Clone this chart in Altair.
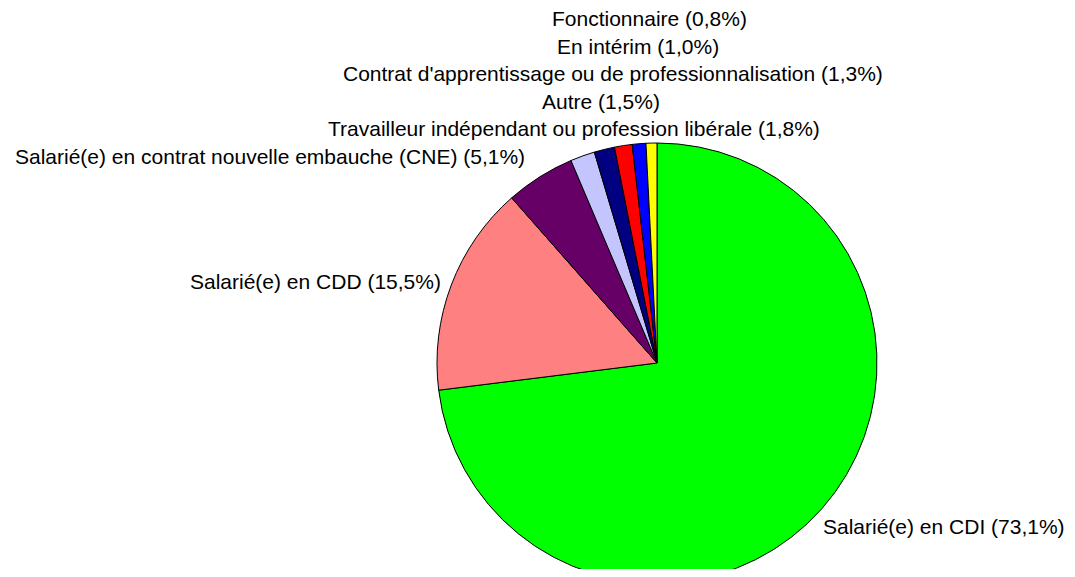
import altair as alt
import pandas as pd

categories = [
    "Salarié(e) en CDI",
    "Salarié(e) en CDD",
    "Salarié(e) en contrat nouvelle embauche (CNE)",
    "Travailleur indépendant ou profession libérale",
    "Autre",
    "Contrat d'apprentissage ou de professionnalisation",
    "En intérim",
    "Fonctionnaire",
]
values = [73.1, 15.5, 5.1, 1.8, 1.5, 1.3, 1.0, 0.8]
colors = ["#00FF00", "#FF8080", "#660066", "#C4C4FF", "#000080", "#FF0000", "#0000FF", "#FFFF00"]
labels = [f"{c} ({str(v).replace('.', ',')}%)" for c, v in zip(categories, values)]

# label anchor positions (left edge, vertical middle) in chart pixels
label_x = [815, 182, 7, 320, 534, 335, 549, 544]
label_y = [520, 275, 150, 122, 95, 67, 40, 12]

df = pd.DataFrame({
    "cat": categories,
    "value": values,
    "order": list(range(len(categories))),
    "label": labels,
    "lx": label_x,
    "ly": label_y,
})

cx, cy, r = 649, 355, 220

pie = alt.Chart(df).mark_arc(outerRadius=r, stroke="black", strokeWidth=1).encode(
    theta=alt.Theta("value:Q", stack=True),
    order=alt.Order("order:Q"),
    color=alt.Color("cat:N", scale=alt.Scale(domain=categories, range=colors), legend=None),
    x=alt.value(cx),
    y=alt.value(cy),
)

text = alt.Chart(df).mark_text(
    align="left", baseline="middle", font="Liberation Sans", fontSize=21, color="black"
).encode(
    x=alt.X("lx:Q", scale=None),
    y=alt.Y("ly:Q", scale=None),
    text="label:N",
)

chart = (pie + text).properties(
    width=1059, height=561, padding=0, autosize=alt.AutoSizeParams(type="none")
).configure_view(stroke=None)

chart.save("out.html", embed_options={"renderer": "svg", "actions": False})
